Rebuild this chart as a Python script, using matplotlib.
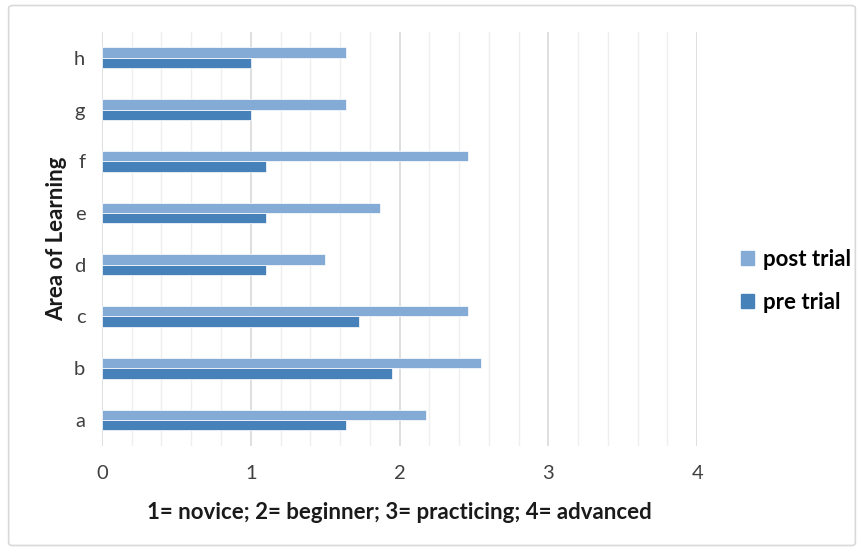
import matplotlib.pyplot as plt
import numpy as np
from matplotlib.patches import FancyBboxPatch, Patch
from matplotlib.ticker import MultipleLocator

plt.rcParams['font.family'] = ['Lato', 'DejaVu Sans']

# Areas of learning, scored on a 1-4 scale
areas = ['a', 'b', 'c', 'd', 'e', 'f', 'g', 'h']
pre_trial = [1.64, 1.95, 1.73, 1.10, 1.10, 1.10, 1.00, 1.00]
post_trial = [2.18, 2.55, 2.46, 1.50, 1.87, 2.46, 1.64, 1.64]

pre_color = '#4682B9'
post_color = '#84AAD6'

fig = plt.figure(figsize=(8.64, 5.51), dpi=100)
ax = fig.add_axes([0.118, 0.191, 0.689, 0.751])

y = np.arange(len(areas))
h = 0.2
ax.barh(y - h / 2, pre_trial, height=h, color=pre_color, edgecolor='white', linewidth=0.5, label='pre trial', zorder=3)
ax.barh(y + h / 2, post_trial, height=h, color=post_color, edgecolor='white', linewidth=0.5, label='post trial', zorder=3)

ax.set_xlim(0, 4)
ax.set_ylim(-0.5, len(areas) - 0.5)
ax.set_yticks(y)
ax.set_yticklabels(areas)
ax.xaxis.set_major_locator(MultipleLocator(1))
ax.xaxis.set_minor_locator(MultipleLocator(0.2))
ax.grid(which='major', axis='x', color='#D9D9D9', linewidth=1.2, zorder=0)
ax.grid(which='minor', axis='x', color='#EFEFEF', linewidth=1.0, zorder=0)
ax.tick_params(which='both', length=0, labelsize=14.5, colors='#404040')
ax.tick_params(axis='x', pad=14)
ax.tick_params(axis='y', pad=12)
for s in ax.spines.values():
    s.set_visible(False)

ax.set_xlabel('1= novice; 2= beginner; 3= practicing; 4= advanced',
              fontsize=16, fontweight='bold', color='#1a1a1a', labelpad=14)
ax.set_ylabel('Area of Learning', fontsize=16, fontweight='bold', color='#1a1a1a')
ax.yaxis.set_label_coords(-0.058, 0.5)

handles = [Patch(color=post_color, label='post trial'), Patch(color=pre_color, label='pre trial')]
leg = fig.legend(handles=handles, loc='center left', bbox_to_anchor=(0.834, 0.49),
                 frameon=False, prop={'weight': 'bold', 'size': 16},
                 handlelength=0.6, handleheight=0.6, handletextpad=0.4, labelspacing=1.0)

# light chart-area border
border = FancyBboxPatch((0.01, 0.01), 0.98, 0.98, boxstyle='round,pad=0,rounding_size=0.005',
                        transform=fig.transFigure, fill=False, edgecolor='#D9D9D9', linewidth=1.2)
fig.patches.append(border)

fig.savefig('out.png', dpi=100)
